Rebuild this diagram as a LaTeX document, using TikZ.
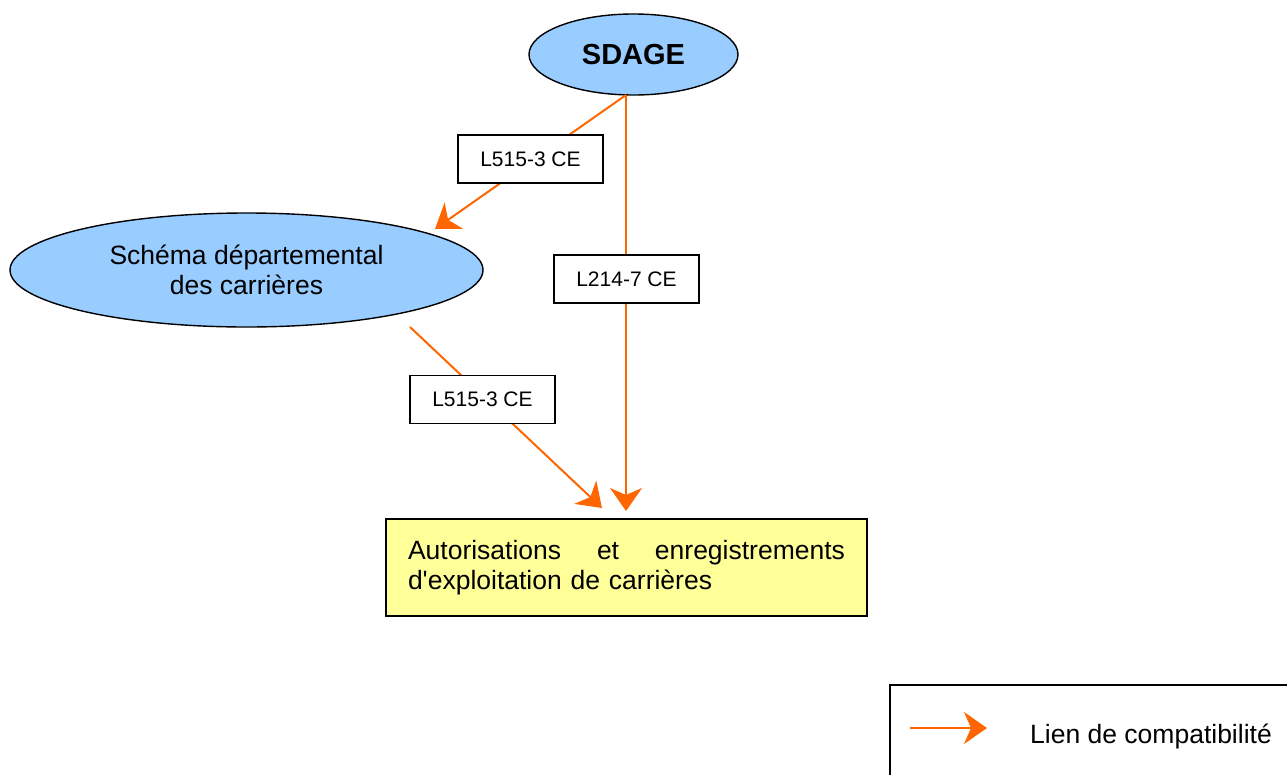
\documentclass[tikz,border=0pt]{standalone}
\usepackage{fontspec}
\setmainfont{Liberation Sans}
\newfontfamily\plainarial{Liberation Sans}
\usetikzlibrary{shapes.geometric,arrows.meta}
\definecolor{ellblue}{HTML}{99CCFF}
\definecolor{boxyellow}{HTML}{FFFF99}
\definecolor{arrorange}{HTML}{FF6600}
\begin{document}
\begin{tikzpicture}[x=1pt,y=-1pt,
  ell/.style={draw=black,line width=1.4pt,fill=ellblue,ellipse,inner sep=0pt},
  lbl/.style={draw=black,line width=1.2pt,fill=white,minimum width=145pt,minimum height=48pt,inner sep=0pt,font=\fontsize{21}{24}\selectfont},
  compat/.style={draw=arrorange,line width=2pt,-{Stealth[length=23pt,width=32pt,inset=7pt]}},
  main/.style={font=\plainarial\fontsize{26.5}{30.5}\selectfont}
]
\useasboundingbox (0,0) rectangle (1287,774);

% nodes
\node[ell,minimum width=209pt,minimum height=81pt,font=\fontsize{29}{32}\selectfont\bfseries] (sdage) at (633.5,54.5) {SDAGE};
\node[ell,minimum width=473pt,minimum height=114pt,main,align=center] (schema) at (246.5,270) {Schéma départemental\\des carrières};
\node[draw=black,line width=1.4pt,fill=boxyellow,minimum width=481pt,minimum height=97pt,inner xsep=22pt,inner ysep=0pt,text width=437pt,align=left,main] (autor) at (626.5,567.5)
  {\hbox to 437pt{Autorisations\hfill et\hfill enregistrements}\\d'exploitation de carrières\\[2pt]};

% connector end points
\coordinate (s1) at (626,95);
\coordinate (t1) at (435,229);
\coordinate (t2) at (626,511);
\coordinate (s3) at (410,327);
\coordinate (t3) at (602,508);

\draw[compat] (s1) -- (t1);
\draw[compat] (s1) -- (t2);
\draw[compat] (s3) -- (t3);

% labels
\node[lbl] (l1) at (530.5,159) {L515-3 CE};
\node[lbl] (l2) at (626.5,279) {L214-7 CE};
\node[lbl] (l3) at (482.5,399.5) {L515-3 CE};

% legend
\draw[line width=1.8pt] (890,800) -- (890,685) -- (1300,685);
\coordinate (lgs) at (910,728);
\coordinate (lge) at (987,728);
\draw[compat] (lgs) -- (lge);
\node[anchor=base west,inner sep=0pt,font=\fontsize{26.5}{30}\selectfont] (lgt) at (1030,743) {Lien de compatibilité};
\end{tikzpicture}
\end{document}
